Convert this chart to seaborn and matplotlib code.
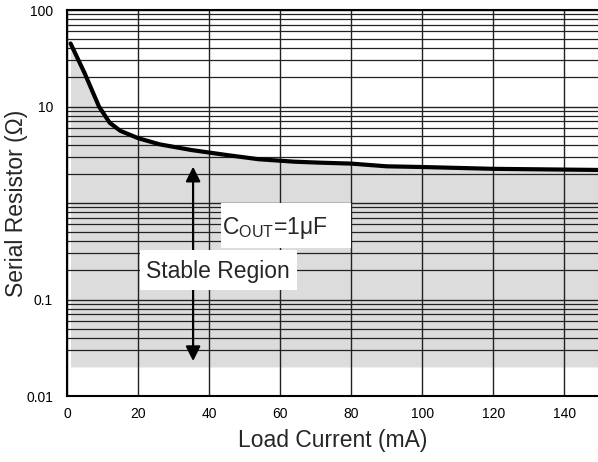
import numpy as np
import pandas as pd
import seaborn as sns
import matplotlib.pyplot as plt
from matplotlib.ticker import FixedLocator, NullFormatter
from matplotlib.patches import Rectangle

# curve
load_ma = [1, 5, 9, 12, 15, 20, 26, 35, 45, 54, 64, 71, 80, 90, 100, 120, 150]
resistor = [45, 22, 10, 6.8, 5.6, 4.7, 4.06, 3.54, 3.14, 2.84, 2.68, 2.62,
            2.56, 2.4, 2.36, 2.26, 2.2]

x_ticks = [0, 20, 40, 60, 80, 100, 120, 140]
y_ticks = [0.01, 0.1, 1, 10, 100]
y_ticklabels = ["0.01", "0.1", "", "10", "100"]
stable_floor = 0.02

df = pd.DataFrame({"load": load_ma, "res": resistor})

sns.set_theme(style="white")
plt.rcParams["font.family"] = ["Liberation Sans", "DejaVu Sans"]
plt.rcParams["mathtext.fontset"] = "custom"
plt.rcParams["mathtext.rm"] = "Liberation Sans"

fig = plt.figure(figsize=(5.98, 4.62), dpi=100)
ax = fig.add_axes([67 / 598, 1 - 396 / 462, 1 - 67 / 598, 386 / 462])

# shaded stable region
ax.fill_between(df["load"], stable_floor, df["res"], color="#dcdcdc", lw=0, zorder=0)

ax.set_yscale("log")
ax.set_xlim(0, 149.5)
ax.set_ylim(0.01, 100)

# grid
minor = [m * 10.0 ** e for e in range(-2, 2) for m in range(2, 10)]
minor = [v for v in minor if v > 0.025]
ax.yaxis.set_minor_locator(FixedLocator(minor))
ax.yaxis.set_minor_formatter(NullFormatter())
ax.set_yticks(y_ticks)
ax.set_yticklabels(y_ticklabels)
ax.set_xticks(x_ticks)
ax.grid(True, which="major", axis="both", color="#222222", lw=1.0, zorder=1)
ax.grid(True, which="minor", axis="y", color="#222222", lw=0.9, zorder=1)
ax.set_axisbelow(True)

sns.lineplot(data=df, x="load", y="res", ax=ax, color="black", lw=3, zorder=5)

# arrow
ax.annotate("", xy=(35.5, 2.38), xytext=(35.5, 0.023),
            arrowprops=dict(arrowstyle="<|-|>", color="black", lw=1.6,
                            mutation_scale=22, shrinkA=0, shrinkB=0), zorder=6)

# label boxes
ax.add_patch(Rectangle((43.3, 0.34), 36.7, 1.0 - 0.34, facecolor="white",
                       edgecolor="none", zorder=7))
ax.add_patch(Rectangle((20.5, 0.125), 44.3, 0.326 - 0.125, facecolor="white",
                       edgecolor="none", zorder=7))
ax.text(43.7, 0.55, r"C$_{\mathrm{OUT}}$=1μF", fontsize=16.5, va="center",
        ha="left", zorder=8)
ax.text(22.3, 0.195, "Stable Region", fontsize=16.5, va="center", ha="left",
        zorder=8)

for side in ["left", "bottom", "top"]:
    ax.spines[side].set_color("black")
    ax.spines[side].set_linewidth(1.5)
ax.spines["right"].set_visible(False)

ax.tick_params(axis="both", which="both", length=0, labelsize=10, colors="black", pad=8)
ax.tick_params(axis="y", pad=10)
ax.set_xlabel("Load Current (mA)", fontsize=16.5, labelpad=6)
ax.set_ylabel("Serial Resistor (Ω)", fontsize=16.5)
ax.yaxis.set_label_coords(-0.073, 0.5)

fig.savefig("out.png", dpi=100)
